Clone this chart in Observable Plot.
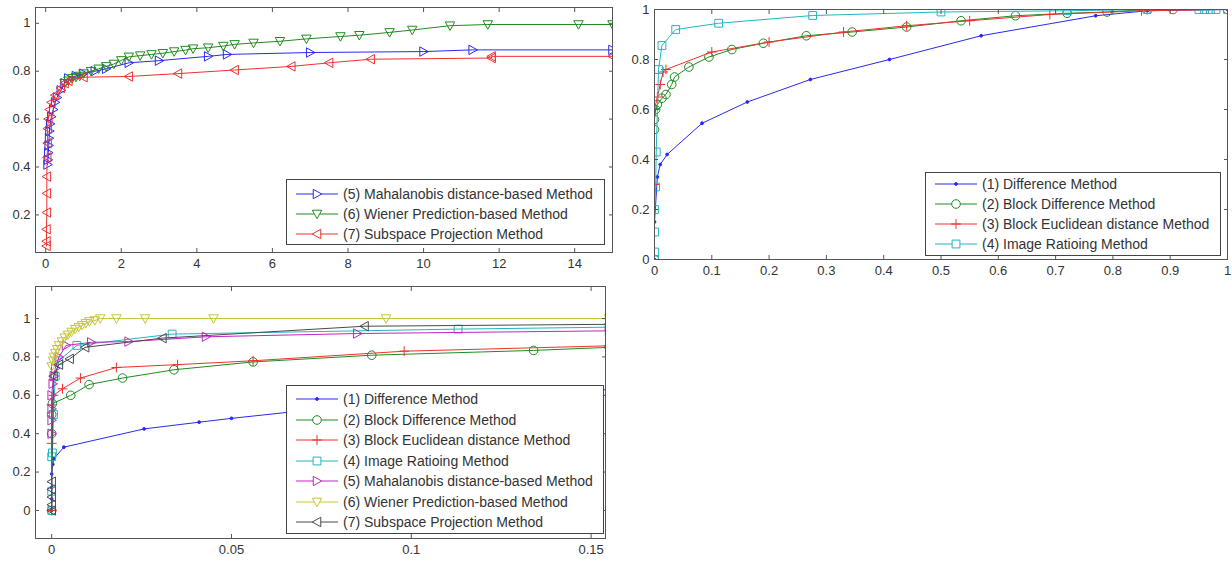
<!DOCTYPE html>
<html><head><meta charset="utf-8">
<script src="https://cdn.jsdelivr.net/npm/d3@7"></script>
<script src="https://cdn.jsdelivr.net/npm/@observablehq/plot@0.6"></script>
<style>
html,body{margin:0;padding:0;background:#fff;}
body{width:1232px;height:562px;position:relative;overflow:hidden;font-family:"Liberation Sans",Arial,sans-serif;}
.panel{position:absolute;}
.legend{position:absolute;border:1px solid #444;background:#fff;box-sizing:border-box;}
.row{position:absolute;left:0;height:20px;display:flex;align-items:center;white-space:nowrap;font-size:14px;color:#333;}
</style></head><body>
<div id="p1" class="panel" style="left:0;top:0"></div>
<div id="p2" class="panel" style="left:620px;top:0"></div>
<div id="p3" class="panel" style="left:0;top:280px"></div>
<script>
// ---------- Legend labels ----------
const methodNames = [
  "(1) Difference Method",
  "(2) Block Difference Method",
  "(3) Block Euclidean distance Method",
  "(4) Image Ratioing Method",
  "(5) Mahalanobis distance-based Method",
  "(6) Wiener Prediction-based Method",
  "(7) Subspace Projection Method"
];

// ---------- Tick values ----------
const p1XTicks = [0, 2, 4, 6, 8, 10, 12, 14];
const p1YTicks = [0.2, 0.4, 0.6, 0.8, 1];
const p2XTicks = [0, 0.1, 0.2, 0.3, 0.4, 0.5, 0.6, 0.7, 0.8, 0.9, 1];
const p2YTicks = [0, 0.2, 0.4, 0.6, 0.8, 1];
const p3XTicks = [0, 0.05, 0.1, 0.15];
const p3YTicks = [0, 0.2, 0.4, 0.6, 0.8, 1];

// ---------- Panel 1 (top-left): methods 5, 6, 7 ----------
const p1MahalanobisX = [0.05,0.06,0.07,0.08,0.09,0.1,0.12,0.15,0.2,0.25,0.3,0.4,0.5,0.6,0.8,1.0,1.3,1.6,2.2,3.0,4.3,4.8,7.0,10.0,11.3,15];
const p1MahalanobisY = [0.41,0.43,0.46,0.49,0.52,0.55,0.58,0.61,0.64,0.67,0.69,0.72,0.75,0.77,0.78,0.79,0.80,0.81,0.835,0.844,0.862,0.87,0.878,0.882,0.889,0.889];
const p1WienerX = [0.5,0.6,0.7,0.8,0.9,1.0,1.2,1.4,1.6,1.8,2.0,2.2,2.5,2.8,3.1,3.4,3.7,3.9,4.3,4.7,5.0,5.5,6.2,6.9,7.8,8.3,9.1,9.7,10.7,11.7,14.1,15];
const p1WienerY = [0.75,0.76,0.77,0.775,0.78,0.79,0.80,0.81,0.82,0.83,0.845,0.86,0.865,0.87,0.875,0.882,0.888,0.894,0.898,0.905,0.912,0.918,0.925,0.935,0.945,0.95,0.962,0.972,0.99,0.995,0.995,0.995];
const p1SubspaceX = [0.02,0.02,0.02,0.03,0.03,0.03,0.04,0.05,0.05,0.07,0.1,0.15,0.25,0.4,0.5,0.6,1.0,2.2,3.5,5.0,6.5,7.5,8.6,11.8,11.8,15];
const p1SubspaceY = [0.07,0.09,0.14,0.21,0.29,0.36,0.44,0.5,0.56,0.6,0.64,0.67,0.7,0.73,0.75,0.76,0.775,0.778,0.79,0.805,0.82,0.835,0.85,0.855,0.862,0.862];

// ---------- Panel 2 (top-right): methods 1-4 ----------
const p2DifferenceX = [0,0,0.005,0.01,0.022,0.083,0.162,0.272,0.41,0.57,0.77,0.86,1];
const p2DifferenceY = [0,0.15,0.33,0.38,0.42,0.545,0.63,0.72,0.8,0.895,0.975,0.995,1];
const p2BlockDiffX = [0,0,0,0.002,0.005,0.013,0.02,0.03,0.035,0.06,0.095,0.135,0.19,0.265,0.345,0.44,0.535,0.63,0.72,0.79,0.86,0.905,1];
const p2BlockDiffY = [0,0.52,0.56,0.6,0.62,0.645,0.66,0.7,0.73,0.77,0.81,0.84,0.865,0.895,0.91,0.93,0.955,0.975,0.985,0.99,1,1,1];
const p2BlockEuclidX = [0,0,0,0.005,0.01,0.015,0.02,0.1,0.2,0.33,0.44,0.55,0.69,0.85,1];
const p2BlockEuclidY = [0,0.3,0.6,0.65,0.7,0.75,0.76,0.83,0.87,0.91,0.935,0.955,0.98,0.995,1];
const p2RatioX = [0,0,0,0,0.002,0.003,0.007,0.013,0.037,0.112,0.276,0.5,0.72,0.86,0.95,0.96,0.97,0.98,1];
const p2RatioY = [0,0.03,0.11,0.2,0.29,0.43,0.76,0.856,0.92,0.945,0.976,0.99,0.995,1,1,1,1,1,1];

// ---------- Panel 3 (bottom-left): methods 1-7, zoomed ----------
const p3DifferenceX = [0,0,0,0,0.0003,0.0006,0.0034,0.0257,0.041,0.05,0.075,0.1,0.125,0.155];
const p3DifferenceY = [0,0.06,0.12,0.19,0.24,0.27,0.33,0.425,0.46,0.48,0.53,0.57,0.6,0.63];
const p3BlockDiffX = [0,0,0,0.0002,0.0053,0.0104,0.0197,0.034,0.056,0.089,0.134,0.155];
const p3BlockDiffY = [0,0.4,0.5,0.557,0.6,0.656,0.69,0.733,0.774,0.809,0.834,0.85];
const p3BlockEuclidX = [0,0,0,0.0005,0.003,0.008,0.018,0.035,0.056,0.098,0.155];
const p3BlockEuclidY = [0,0.35,0.55,0.6,0.634,0.69,0.745,0.76,0.78,0.83,0.858];
const p3RatioX = [0,0,0,0.0002,0.0005,0.001,0.002,0.007,0.0335,0.113,0.155];
const p3RatioY = [0,0.1,0.28,0.3,0.5,0.7,0.78,0.86,0.919,0.945,0.955];
const p3MahalanobisX = [0,0,0,0,0.0003,0.0006,0.001,0.002,0.004,0.011,0.0214,0.0429,0.085,0.155];
const p3MahalanobisY = [0.4,0.47,0.53,0.6,0.66,0.7,0.74,0.8,0.86,0.876,0.88,0.905,0.922,0.936];
const p3WienerX = [0,0.0003,0.0006,0.001,0.0015,0.002,0.0028,0.0036,0.0045,0.0055,0.0065,0.0075,0.0085,0.0095,0.0105,0.012,0.0135,0.018,0.026,0.045,0.093,0.155];
const p3WienerY = [0.75,0.78,0.8,0.82,0.84,0.86,0.88,0.9,0.915,0.93,0.945,0.955,0.965,0.975,0.985,0.99,1,1,1,1,1,1];
const p3SubspaceX = [0,0,0,0,0,0.0005,0.002,0.005,0.0093,0.0308,0.087,0.155];
const p3SubspaceY = [0,0.03,0.07,0.11,0.15,0.7,0.76,0.79,0.85,0.898,0.96,0.97];

// ---------- Styling ----------
const triRight = {draw(c, size){const r=Math.sqrt(size/Math.PI)*1.15; c.moveTo(r,0); c.lineTo(-r*0.8,-r); c.lineTo(-r*0.8,r); c.closePath();}};
const triDown  = {draw(c, size){const r=Math.sqrt(size/Math.PI)*1.15; c.moveTo(0,r); c.lineTo(-r,-r*0.8); c.lineTo(r,-r*0.8); c.closePath();}};
const triLeft  = {draw(c, size){const r=Math.sqrt(size/Math.PI)*1.15; c.moveTo(-r,0); c.lineTo(r*0.8,-r); c.lineTo(r*0.8,r); c.closePath();}};
const squareS  = {draw(c, size){const r=Math.sqrt(size/Math.PI)*0.95; c.rect(-r,-r,2*r,2*r);}};
const plusS    = {draw(c, size){const r=Math.sqrt(size/Math.PI)*1.2; c.moveTo(-r,0); c.lineTo(r,0); c.moveTo(0,-r); c.lineTo(0,r);}};
const circleS  = {draw(c, size){const r=Math.sqrt(size/Math.PI)*1.05; c.moveTo(r,0); c.arc(0,0,r,0,2*Math.PI);}};
const pointS   = {draw(c, size){const r=1.4; c.moveTo(r,0); c.arc(0,0,r,0,2*Math.PI);}};

const styleOf = {
  blue:    "#2a2af0",
  green:   "#1f8c1f",
  red:     "#f03030",
  cyan:    "#22b6c0",
  magenta: "#c424c4",
  yellow:  "#c6c634",
  gray:    "#4a4a4a"
};
const method = [
  {sym: pointS,   filled: true},
  {sym: circleS},
  {sym: plusS},
  {sym: squareS},
  {sym: triRight},
  {sym: triDown},
  {sym: triLeft}
];
const markerR = 4.1;

function rows(xs, ys){ return xs.map((x,i)=>({x, y: ys[i]})); }

function seriesMarks(s){
  const data = rows(s.x, s.y);
  const m = method[s.m];
  return [
    Plot.line(data, {x:"x", y:"y", stroke: s.color, strokeWidth: 1, clip: true}),
    Plot.dot(data, {x:"x", y:"y", symbol: m.sym, r: markerR, stroke: s.color, strokeWidth: 1,
      fill: m.filled ? s.color : "none", clip: true})
  ];
}

function axes(xTicks, yTicks){
  const fmt = d => String(d);
  return [
    Plot.axisX(xTicks, {anchor:"bottom", tickSize:0, tickPadding:6, tickFormat: fmt, label:null, fill:"#333"}),
    Plot.axisY(yTicks, {anchor:"left", tickSize:0, tickPadding:5, tickFormat: fmt, label:null, fill:"#333"}),
    Plot.axisX(xTicks, {anchor:"bottom", tickSize:4, dy:-4, text:null, label:null, stroke:"#555"}),
    Plot.axisX(xTicks, {anchor:"top", tickSize:4, dy:4, text:null, label:null, stroke:"#555"}),
    Plot.axisY(yTicks, {anchor:"left", tickSize:4, dx:4, text:null, label:null, stroke:"#555"}),
    Plot.axisY(yTicks, {anchor:"right", tickSize:4, dx:-4, text:null, label:null, stroke:"#555"}),
  ];
}

function makePanel(el, cfg){
  const chart = Plot.plot({
    width: cfg.width, height: cfg.height,
    marginLeft: cfg.ml, marginRight: cfg.mr, marginTop: cfg.mt, marginBottom: cfg.mb,
    style: {fontFamily: '"Liberation Sans", Arial, sans-serif', fontSize: "13px", background: "#fff", color: "#333"},
    x: {domain: cfg.xDomain},
    y: {domain: cfg.yDomain},
    marks: [
      ...cfg.series.flatMap(seriesMarks),
      ...axes(cfg.xTicks, cfg.yTicks),
      Plot.frame({stroke: "#555", strokeWidth: 1})
    ]
  });
  document.getElementById(el).appendChild(chart);
}

function makeLegend(cfg){
  const box = document.createElement("div");
  box.className = "legend";
  Object.assign(box.style, {left: cfg.left+"px", top: cfg.top+"px", width: cfg.width+"px", height: cfg.height+"px"});
  cfg.series.forEach((s, i) => {
    const row = document.createElement("div");
    row.className = "row";
    row.style.top = (cfg.pad + i*cfg.step) + "px";
    const svg = d3.create("svg").attr("width", 56).attr("height", 20).style("flex", "none");
    svg.append("line").attr("x1", 9).attr("x2", 51).attr("y1", 10).attr("y2", 10).attr("stroke", s.color);
    const m = method[s.m];
    svg.append("path").attr("transform", "translate(30,10)")
      .attr("d", d3.symbol(m.sym, markerR*markerR*Math.PI)())
      .attr("stroke", s.color).attr("fill", m.filled ? s.color : "#fff");
    row.appendChild(svg.node());
    const t = document.createElement("span");
    t.textContent = methodNames[s.m];
    row.appendChild(t);
    box.appendChild(row);
  });
  document.body.appendChild(box);
}

const p1Series = [
  {m:4, x:p1MahalanobisX, y:p1MahalanobisY, color: styleOf.blue},
  {m:5, x:p1WienerX, y:p1WienerY, color: styleOf.green},
  {m:6, x:p1SubspaceX, y:p1SubspaceY, color: styleOf.red}
];
const p2Series = [
  {m:0, x:p2DifferenceX, y:p2DifferenceY, color: styleOf.blue},
  {m:1, x:p2BlockDiffX, y:p2BlockDiffY, color: styleOf.green},
  {m:2, x:p2BlockEuclidX, y:p2BlockEuclidY, color: styleOf.red},
  {m:3, x:p2RatioX, y:p2RatioY, color: styleOf.cyan}
];
const p3Series = [
  {m:0, x:p3DifferenceX, y:p3DifferenceY, color: styleOf.blue},
  {m:1, x:p3BlockDiffX, y:p3BlockDiffY, color: styleOf.green},
  {m:2, x:p3BlockEuclidX, y:p3BlockEuclidY, color: styleOf.red},
  {m:3, x:p3RatioX, y:p3RatioY, color: styleOf.cyan},
  {m:4, x:p3MahalanobisX, y:p3MahalanobisY, color: styleOf.magenta},
  {m:5, x:p3WienerX, y:p3WienerY, color: styleOf.yellow},
  {m:6, x:p3SubspaceX, y:p3SubspaceY, color: styleOf.gray}
];

makePanel("p1", {width:620, height:280, ml:35, mr:8, mt:7, mb:28,
  xDomain:[-0.27, 15], yDomain:[0.043, 1.066], xTicks:p1XTicks, yTicks:p1YTicks, series:p1Series});
makePanel("p2", {width:612, height:280, ml:34, mr:5, mt:9, mb:21,
  xDomain:[0, 1], yDomain:[0, 1], xTicks:p2XTicks, yTicks:p2YTicks, series:p2Series});
makePanel("p3", {width:620, height:282, ml:35, mr:15, mt:6, mb:24,
  xDomain:[-0.0045, 0.154], yDomain:[-0.146, 1.167], xTicks:p3XTicks, yTicks:p3YTicks, series:p3Series});

makeLegend({left:286, top:179, width:319, height:66, pad:4, step:20, series:p1Series});
makeLegend({left:925, top:172, width:296, height:84, pad:1, step:20, series:p2Series});
makeLegend({left:286, top:385, width:318, height:149, pad:3, step:20.5, series:p3Series});
</script>
</body></html>
